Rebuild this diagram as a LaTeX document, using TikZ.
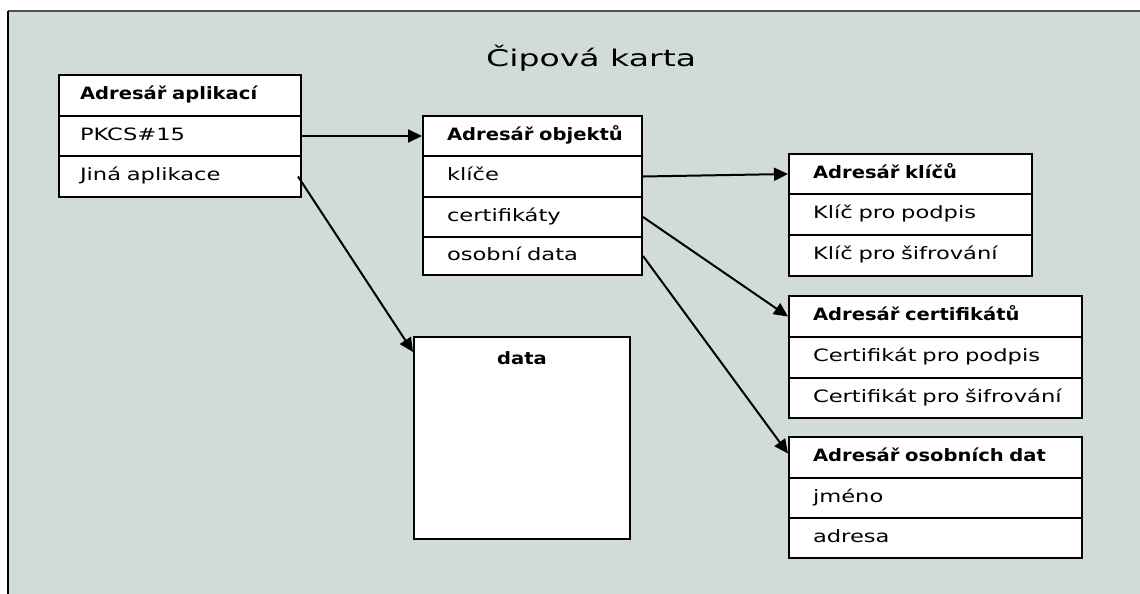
\documentclass[tikz,border=0pt]{standalone}
\usepackage{fontspec}
\setmainfont{DejaVu Sans}
\newfontfamily\bodyfont[FakeStretch=1.33]{DejaVu Sans}
\newfontfamily\headfont[FakeStretch=1.15]{DejaVu Sans}
\newfontfamily\titlefont[FakeStretch=1.44]{DejaVu Sans}
\usetikzlibrary{arrows.meta,calc}

\definecolor{cardbg}{RGB}{209,219,218}
\definecolor{framegray}{RGB}{80,80,80}

\begin{document}
\begin{tikzpicture}[x=1pt,y=-1pt,
  cell/.style={draw=black, line width=2pt, fill=white, anchor=north west,
    inner ysep=0pt, align=left, text height=12pt, text depth=4pt,
    font=\bodyfont\fontsize{17}{20}\selectfont},
  headcell/.style={cell, font=\headfont\bfseries\fontsize{17}{20}\selectfont},
  arr/.style={line width=2pt, -{Triangle[length=14pt,width=13pt]}}]

\useasboundingbox (0,0) rectangle (1140,594);
\clip (0,0) rectangle (1140,594);

% card background and its frame
\fill[cardbg] (8,11) rectangle (1150,600);
\draw[framegray, line width=2pt] (8,11) -- (1150,11);
\draw[black, line width=2pt] (8,600) -- (8,11);

\node[font=\titlefont\fontsize{23}{27}\selectfont, anchor=west, inner sep=0pt] (title) at (486,58) {Čipová karta};

% application directory
\begin{scope}[every node/.append style={inner xsep=21pt, text width=200pt}]
\node[headcell, minimum height=41pt] (apl-h) at (58,74) {\mbox{Adresář aplikací}};
\node[cell, minimum height=40pt] (apl-1) at (58,115) {\mbox{PKCS\#15}};
\node[cell, minimum height=41pt] (apl-2) at (58,155) {\mbox{Jiná aplikace}};
\end{scope}

% object directory
\begin{scope}[every node/.append style={inner xsep=24pt, text width=171pt}]
\node[headcell, minimum height=40pt] (obj-h) at (422,115) {\mbox{Adresář objektů}};
\node[cell, minimum height=41pt] (obj-1) at (422,155) {\mbox{klíče}};
\node[cell, minimum height=40pt] (obj-2) at (422,196) {\mbox{certifikáty}};
\node[cell, minimum height=38pt] (obj-3) at (422,236) {\mbox{osobní data}};
\end{scope}

% key directory
\begin{scope}[every node/.append style={inner xsep=24pt, text width=195pt}]
\node[headcell, minimum height=40pt] (key-h) at (788,153) {\mbox{Adresář klíčů}};
\node[cell, minimum height=41pt] (key-1) at (788,193) {\mbox{Klíč pro podpis}};
\node[cell, minimum height=41pt] (key-2) at (788,234) {\mbox{Klíč pro šifrování}};
\end{scope}

% certificate directory
\begin{scope}[every node/.append style={inner xsep=24pt, text width=245pt}]
\node[headcell, minimum height=41pt] (crt-h) at (788,295) {\mbox{Adresář certifikátů}};
\node[cell, minimum height=41pt] (crt-1) at (788,336) {\mbox{Certifikát pro podpis}};
\node[cell, minimum height=40pt] (crt-2) at (788,377) {\mbox{Certifikát pro šifrování}};
\end{scope}

% personal data directory
\begin{scope}[every node/.append style={inner xsep=24pt, text width=245pt}]
\node[headcell, minimum height=41pt] (per-h) at (788,436) {\mbox{Adresář osobních dat}};
\node[cell, minimum height=40pt] (per-1) at (788,477) {\mbox{jméno}};
\node[cell, minimum height=40pt] (per-2) at (788,517) {\mbox{adresa}};
\end{scope}

% data of the other application
\node[draw=black, line width=2pt, fill=white, anchor=north west,
  minimum width=216pt, minimum height=202pt, inner sep=0pt] (data) at (413,336) {};
\node[font=\headfont\bfseries\fontsize{17}{20}\selectfont] (data-label) at (522,358) {data};

% links between directories
\draw[arr] (apl-1.east) -- (obj-h.west);
\draw[arr] ($(apl-2.east)+(-4,0)$) -- ($(data.north west)+(0,16)$);
\draw[arr] (obj-1.east) -- (key-h.west);
\draw[arr] (obj-2.east) -- (crt-h.west);
\draw[arr] (obj-3.east) -- ($(per-h.west)+(0,-4)$);
\end{tikzpicture}
\end{document}
